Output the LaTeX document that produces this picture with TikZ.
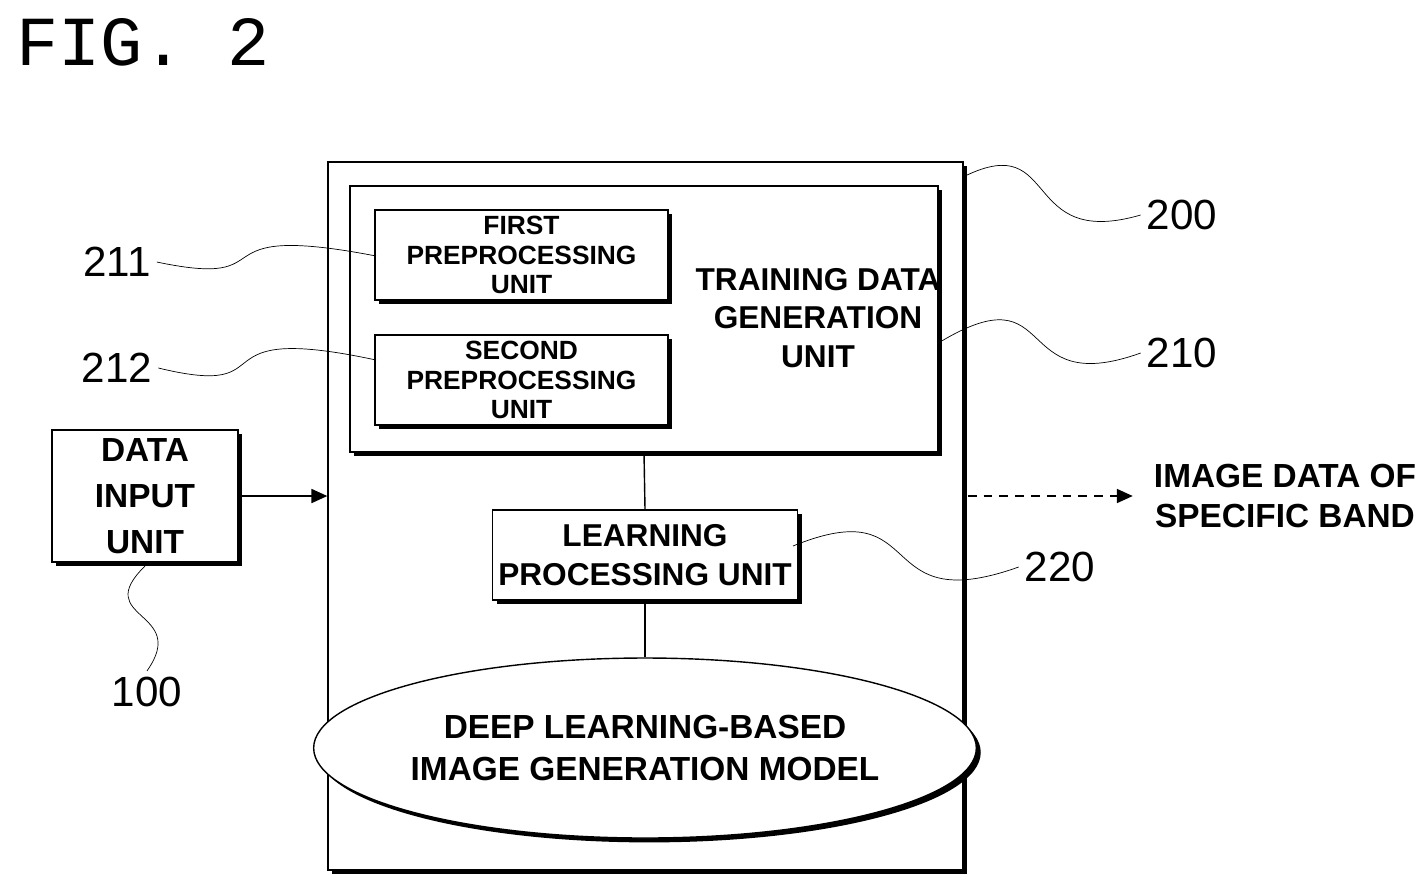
\documentclass[tikz,border=0pt]{standalone}
\usepackage{fontspec}
\setmainfont{Liberation Sans}
\newfontfamily\figfont{Liberation Mono}
\usetikzlibrary{shapes.geometric,shadows,arrows.meta}
\begin{document}
\begin{tikzpicture}[x=0.02cm,y=-0.02cm,
            unit box/.style={draw,thick,fill=white,align=center,font=\bfseries,
              drop shadow={shadow xshift=2.5pt,shadow yshift=-2.5pt,opacity=1,fill=black}},
            small unit/.style={unit box,font=\bfseries\fontsize{15}{17}\selectfont,
              minimum width=293*0.02cm,minimum height=90*0.02cm},
            ref label/.style={font=\fontsize{24}{26}\selectfont},
            ]
            \useasboundingbox (0,0) rectangle (1425,894);

            \node[anchor=north west,font=\figfont\fontsize{40}{40}\selectfont] (fig) at (10,12) {FIG. 2};

            \node[unit box,minimum width=635*0.02cm,minimum height=708*0.02cm] (outer) at (645.5,516) {};
            \node[unit box,minimum width=588*0.02cm,minimum height=266*0.02cm] (train) at (644,319) {};
            \node[font=\bfseries\fontsize{18}{22}\selectfont,align=center] (traintext) at (818,318) {TRAINING DATA\\GENERATION\\UNIT};
            \node[small unit] (first) at (521.5,255) {FIRST\\PREPROCESSING\\UNIT};
            \node[small unit] (second) at (521.5,380) {SECOND\\PREPROCESSING\\UNIT};
            \node[unit box,font=\bfseries\fontsize{19}{26}\selectfont,minimum width=186*0.02cm,minimum height=132*0.02cm] (input) at (145,496) {DATA\\INPUT\\UNIT};
            \node[unit box,font=\bfseries\fontsize{18}{22}\selectfont,minimum width=294*0.02cm,minimum height=90*0.02cm] (learn) at (645,555) {LEARNING\\PROCESSING UNIT};
            \node[ellipse,unit box,inner sep=0pt,font=\bfseries\fontsize{19}{24}\selectfont,minimum width=456*0.02cm,minimum height=180*0.02cm] (model) at (645,748) {DEEP LEARNING-BASED\\IMAGE GENERATION MODEL};
            \node[font=\bfseries\fontsize{19}{23}\selectfont,align=center] (output) at (1285,496) {IMAGE DATA OF\\SPECIFIC BAND};

            \draw[thick] (train.south) -- (learn.north);
            \draw[thick] (learn.south) -- (model.north);
            \draw[thick,-{Triangle[length=9pt,width=8pt]}] (input.east) -- (input.east -| outer.west);
            \draw[thick,dash pattern=on 5pt off 4pt,-{Triangle[length=9pt,width=8pt]}] (outer.east |- output) ++(4,0) coordinate (dstart) -- ++(165,0) coordinate (dend);

            % reference numerals
            \node[ref label] (n200) at (1182,215) {200};
            \node[ref label] (n210) at (1182,353) {210};
            \node[ref label] (n211) at (117,262) {211};
            \node[ref label] (n212) at (117,368) {212};
            \node[ref label] (n220) at (1060,567) {220};
            \node[ref label] (n100) at (147,692) {100};
            \coordinate (c200) at (965,176);
            \coordinate (c210) at (940,342);
            \coordinate (c211) at (376,256);
            \coordinate (c212) at (376,360);
            \coordinate (c220) at (793,546);
            \coordinate (c100) at (145,566);

            \draw (c200) .. controls (1060,130) and (1020,250) .. (n200.west);
            \draw (c210) .. controls (1060,270) and (1010,400) .. (n210.west);
            \draw (n211.east) .. controls (290,290) and (190,220) .. (c211);
            \draw (n212.east) .. controls (290,400) and (190,320) .. (c212);
            \draw (c220) .. controls (930,490) and (870,620) .. (n220.west);
            \draw (c100) .. controls (90,620) and (190,610) .. (n100.north);
        \end{tikzpicture}
\end{document}
